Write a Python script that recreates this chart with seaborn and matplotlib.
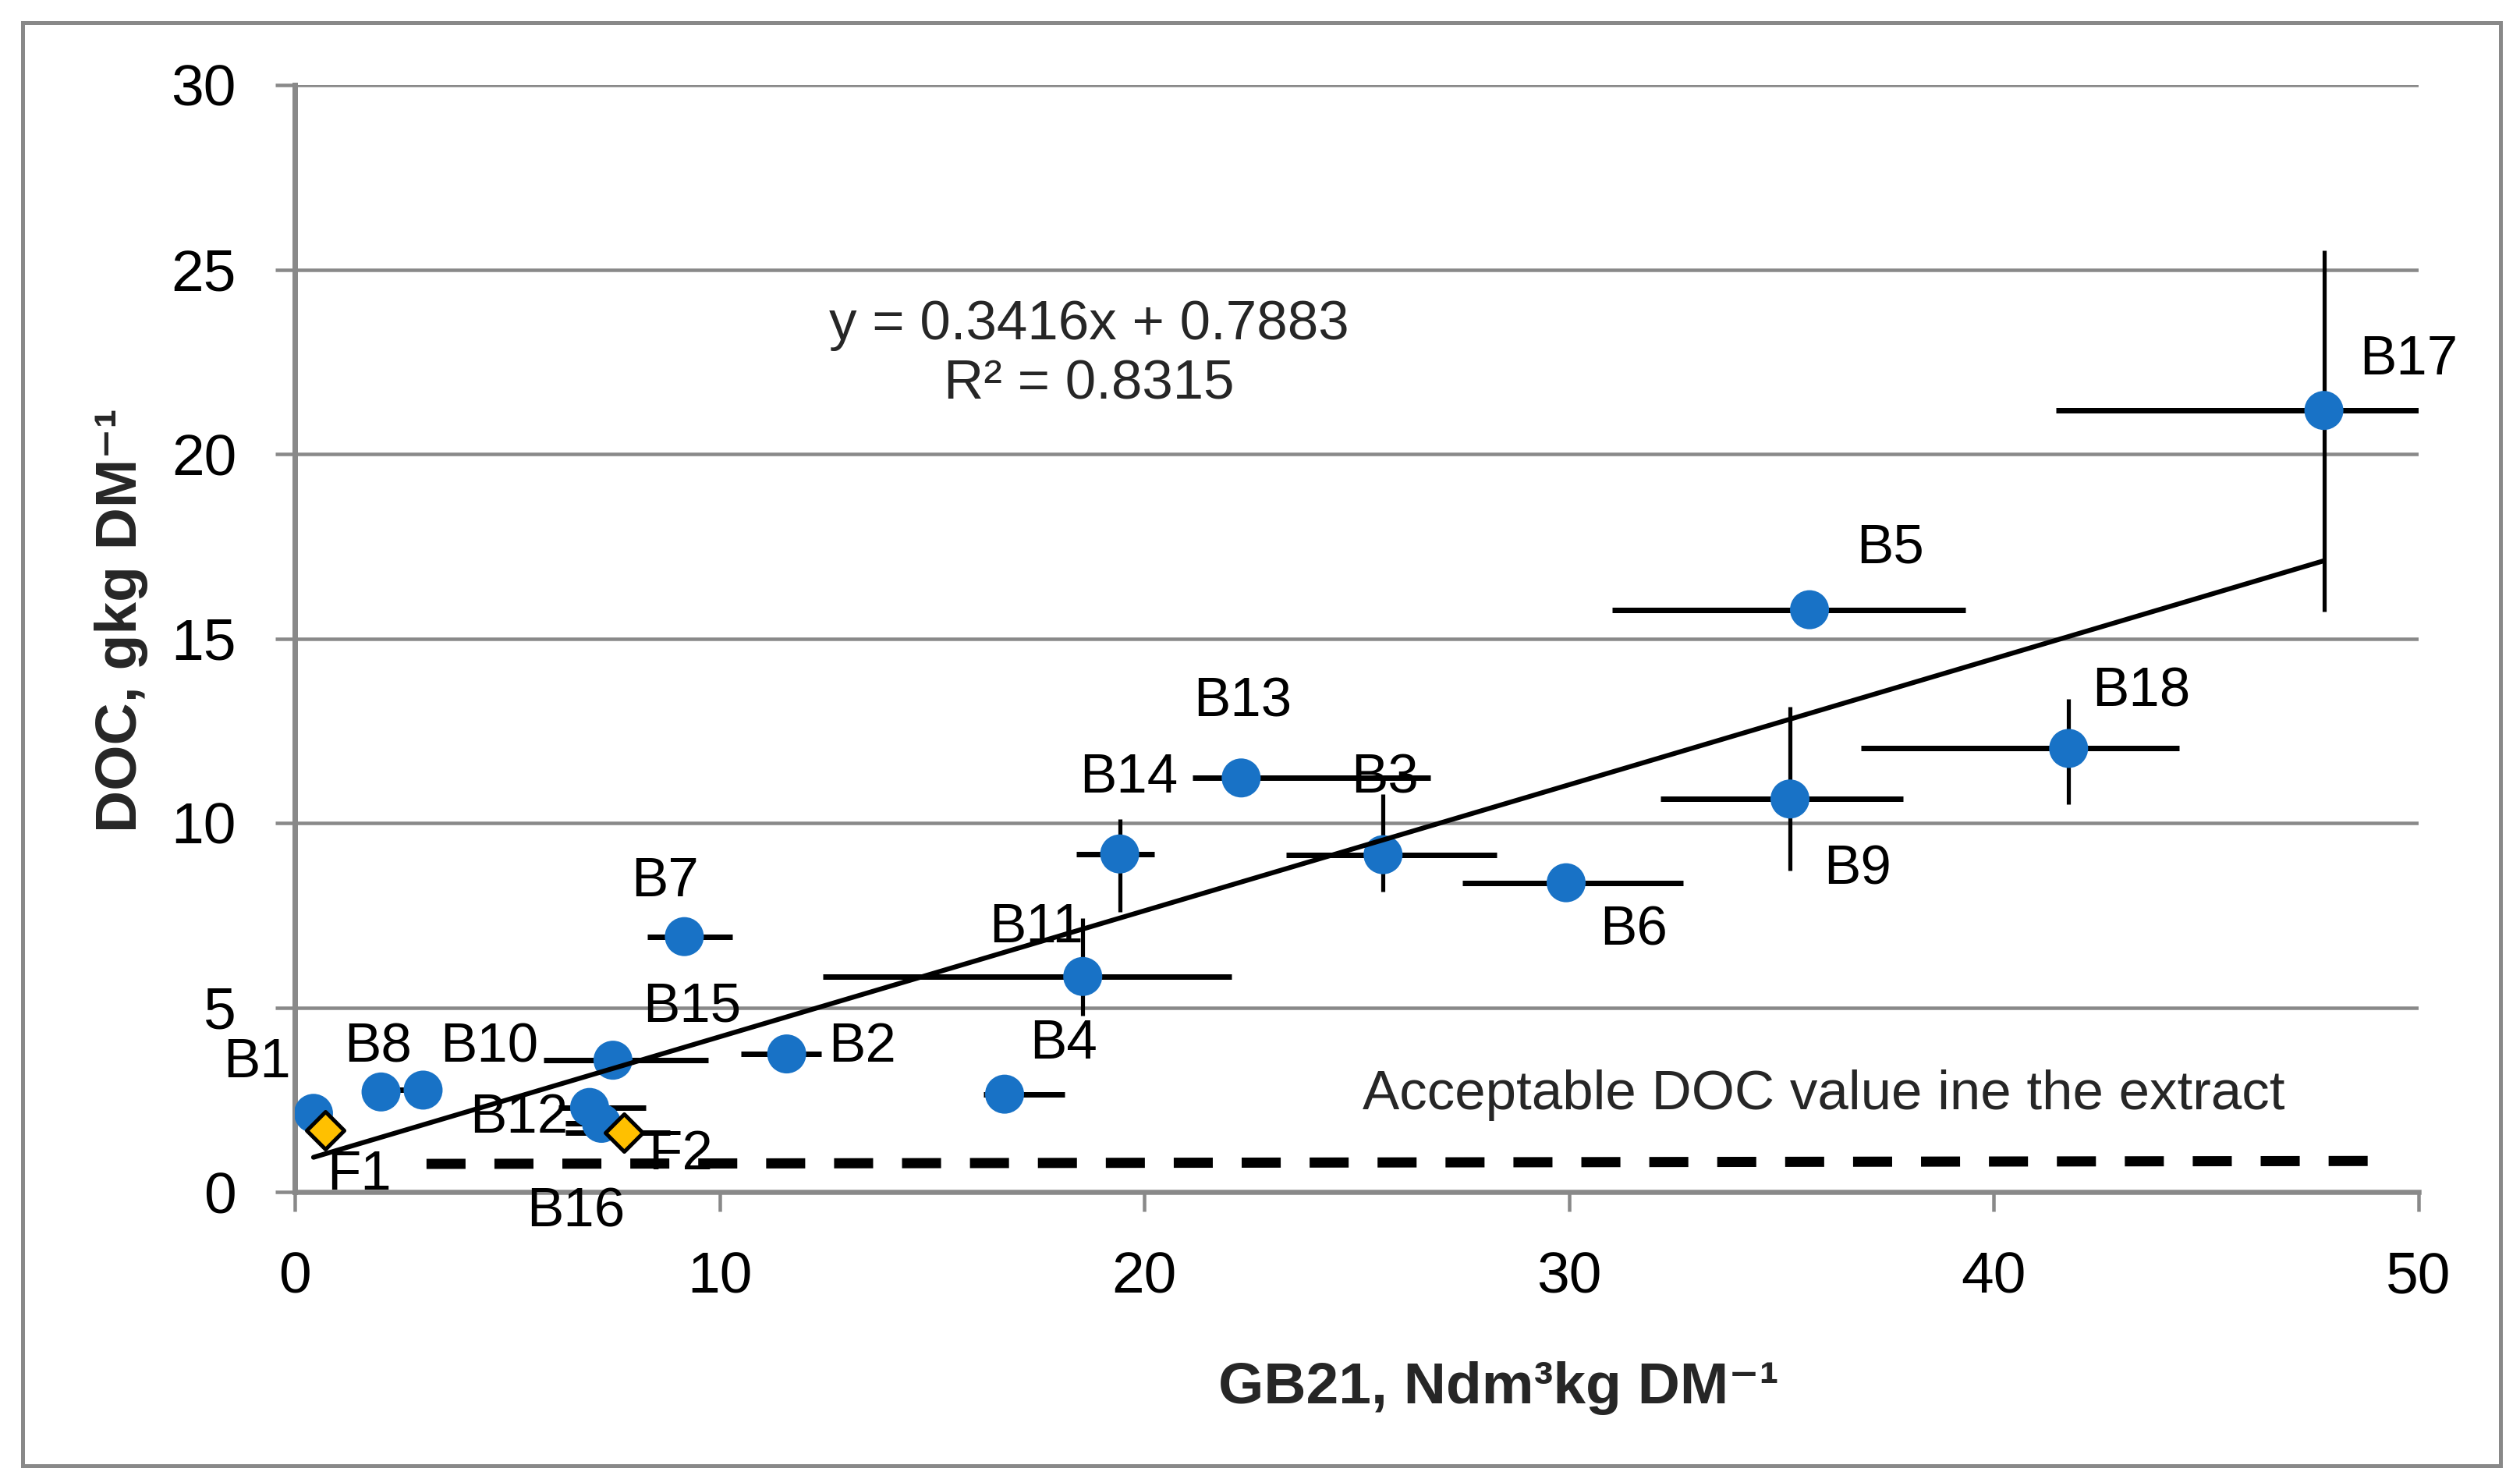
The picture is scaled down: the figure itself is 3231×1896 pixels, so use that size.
import numpy as np
import pandas as pd
import matplotlib
matplotlib.use("Agg")
import matplotlib.pyplot as plt
from matplotlib import font_manager
from matplotlib.patches import Rectangle
import seaborn as sns

# ---------------- data ----------------
b_labels = ["B1", "B2", "B3", "B4", "B5", "B6", "B7", "B8", "B9",
            "B10", "B11", "B12", "B13", "B14", "B15", "B16", "B17", "B18"]
b_gb21 = [0.44, 11.58, 25.62, 16.71, 35.66, 29.93, 9.17, 2.03, 35.20,
          3.02, 18.55, 6.94, 22.28, 19.42, 7.49, 7.22, 47.77, 41.76]
b_doc = [2.13, 3.74, 9.14, 2.65, 15.78, 8.38, 6.92, 2.71, 10.65,
         2.76, 5.84, 2.29, 11.22, 9.16, 3.57, 1.86, 21.18, 12.02]
b_xerr_low = [0.0, 1.08, 2.28, 0.50, 4.64, 2.44, 0.87, 0.0, 3.04,
              0.60, 6.11, 0.74, 1.15, 1.03, 1.64, 0.84, 6.30, 4.88]
b_xerr_high = [0.0, 0.82, 2.67, 1.41, 3.67, 2.75, 1.14, 0.0, 2.67,
               0.40, 3.50, 1.33, 4.45, 0.82, 2.25, 0.50, 6.30, 2.61]
b_yerr_low = [0.0, 0.0, 1.00, 0.0, 0.0, 0.0, 0.0, 0.0, 1.94,
              0.0, 1.06, 0.0, 0.0, 1.57, 0.0, 0.0, 5.46, 1.51]
b_yerr_high = [0.0, 0.0, 1.64, 0.0, 0.0, 0.0, 0.0, 0.0, 2.51,
               0.0, 1.58, 0.0, 0.0, 0.95, 0.0, 0.0, 4.33, 1.35]

f_labels = ["F1", "F2"]
f_gb21 = [0.72, 7.75]
f_doc = [1.66, 1.61]
f_xerr_low = [0.0, 1.37]
f_xerr_high = [0.0, 1.09]

trend_slope = 0.3416
trend_intercept = 0.7883
trend_text = "y = 0.3416x + 0.7883\nR² = 0.8315"

limit_x = [3.1, 49.0]
limit_doc = [0.76, 0.84]
limit_text = "Acceptable DOC value ine the extract"

x_ticks = [0, 10, 20, 30, 40, 50]
y_ticks = [0, 5, 10, 15, 20, 25, 30]
x_title = "GB21, Ndm³kg DM⁻¹"
y_title = "DOC, gkg DM⁻¹"

# label offsets in output pixels (layout only)
label_offsets_px = {
    "B1": (-72, 64), "B2": (97, 8), "B3": (2, 97), "B4": (76, 64),
    "B5": (103, 78), "B6": (87, -62), "B7": (-25, 70), "B8": (-4, 56),
    "B9": (87, -91), "B10": (85, 54), "B11": (-60, 62), "B12": (-91, -14),
    "B13": (2, 97), "B14": (12, 97), "B15": (101, 68), "B16": (-33, -114),
    "B17": (109, 64), "B18": (93, 72), "F1": (43, -58), "F2": (72, -29),
}

# ---------------- style ----------------
sns.set_style("white")
names = {f.name for f in font_manager.fontManager.ttflist}
base_font = "Liberation Sans Narrow" if "Liberation Sans Narrow" in names else "Liberation Sans"
narrow = base_font == "Liberation Sans Narrow"
plt.rcParams["font.family"] = [base_font, "Liberation Sans", "DejaVu Sans"]

DPI = 200
W, H = 3231, 1896
PX = 72.0 / DPI  # points per pixel

GRAY = "#898989"
BLUE = "#1872C6"
GOLD = "#FFC000"

LAB = 29 if narrow else 25.5
TICK = 30 if narrow else 27
TITLE = 31 if narrow else 27

fig = plt.figure(figsize=(W / DPI, H / DPI), dpi=DPI)
fig.patch.set_facecolor("white")
ax = fig.add_axes([378 / W, 1 - 1528 / H, (3101 - 378) / W, (1528 - 109) / H])
ax.set_facecolor("white")

bdf = pd.DataFrame({"label": b_labels, "gb21": b_gb21, "doc": b_doc})
fdf = pd.DataFrame({"label": f_labels, "gb21": f_gb21, "doc": f_doc})

# error bars
ax.errorbar(b_gb21, b_doc, xerr=[b_xerr_low, b_xerr_high], fmt="none",
            ecolor="black", elinewidth=7 * PX, capsize=0, zorder=2)
ax.errorbar(b_gb21, b_doc, yerr=[b_yerr_low, b_yerr_high], fmt="none",
            ecolor="black", elinewidth=5.2 * PX, capsize=0, zorder=2)
ax.errorbar(f_gb21, f_doc, xerr=[f_xerr_low, f_xerr_high], fmt="none",
            ecolor="black", elinewidth=7 * PX, capsize=0, zorder=2)

# acceptable limit line
ax.plot(limit_x, limit_doc, color="black", lw=13 * PX, linestyle=(0, (3.85, 2.85)),
        solid_capstyle="butt", dash_capstyle="butt", zorder=2.5)

# points
sns.scatterplot(data=bdf, x="gb21", y="doc", ax=ax, color=BLUE, s=(50 * PX) ** 2,
                edgecolor="none", linewidth=0, zorder=3, legend=False)
sns.scatterplot(data=fdf, x="gb21", y="doc", ax=ax, color=GOLD, marker="D",
                s=(34 * PX) ** 2, edgecolor="black", linewidth=5 * PX, zorder=3.5,
                legend=False)

# trend line over data range
tx = np.array([min(b_gb21), max(b_gb21)])
sns.lineplot(x=tx, y=trend_slope * tx + trend_intercept, ax=ax, color="black",
             lw=6.2 * PX, zorder=4, legend=False)

# labels
for lab, xv, yv in list(zip(b_labels, b_gb21, b_doc)) + list(zip(f_labels, f_gb21, f_doc)):
    dx, dy = label_offsets_px[lab]
    ax.annotate(lab, (xv, yv), xytext=(dx * PX, dy * PX), textcoords="offset points",
                ha="center", va="center", fontsize=LAB, color="black", zorder=5)

ax.text(0.374, 0.756, trend_text, transform=ax.transAxes, ha="center", va="center",
        fontsize=LAB, linespacing=1.2, zorder=5)
ax.text(0.720, 0.0874, limit_text, transform=ax.transAxes, ha="center", va="center",
        fontsize=LAB, zorder=5)

# axes
ax.set_xlim(0, 50)
ax.set_ylim(0, 30)
ax.set_xticks(x_ticks)
ax.set_yticks(y_ticks)
ax.set_xticklabels([str(v) for v in x_ticks])
ax.set_yticklabels([str(v) for v in y_ticks])
ax.set_xlabel("")
ax.set_ylabel("")
ax.yaxis.grid(True, color=GRAY, lw=4.5 * PX, zorder=0)
ax.xaxis.grid(False)
ax.set_axisbelow(True)
for s in ["top", "right"]:
    ax.spines[s].set_visible(False)
ax.spines["left"].set_color(GRAY)
ax.spines["left"].set_linewidth(7 * PX)
ax.spines["bottom"].set_color(GRAY)
ax.spines["bottom"].set_linewidth(6.5 * PX)
ax.tick_params(axis="x", direction="out", length=25 * PX, width=4.5 * PX, color=GRAY,
               labelsize=TICK, pad=50 * PX, labelcolor="black", bottom=True)
ax.tick_params(axis="y", direction="out", length=25 * PX, width=4.5 * PX, color=GRAY,
               labelsize=TICK, pad=50 * PX, labelcolor="black", left=True)

# axis titles
fig.text(1921 / W, 1 - 1780 / H, x_title, ha="center", va="center", fontsize=TITLE,
         fontweight="bold")
fig.text(155 / W, 1 - 795 / H, y_title, ha="center", va="center", fontsize=TITLE,
         fontweight="bold", rotation=90)

# outer chart frame
fig.add_artist(Rectangle((29 / W, 1 - 1879 / H), (3206 - 29) / W, (1879 - 29) / H,
                         transform=fig.transFigure, fill=False, edgecolor=GRAY,
                         lw=5 * PX))

fig.savefig("out.png", dpi=DPI, facecolor="white")
